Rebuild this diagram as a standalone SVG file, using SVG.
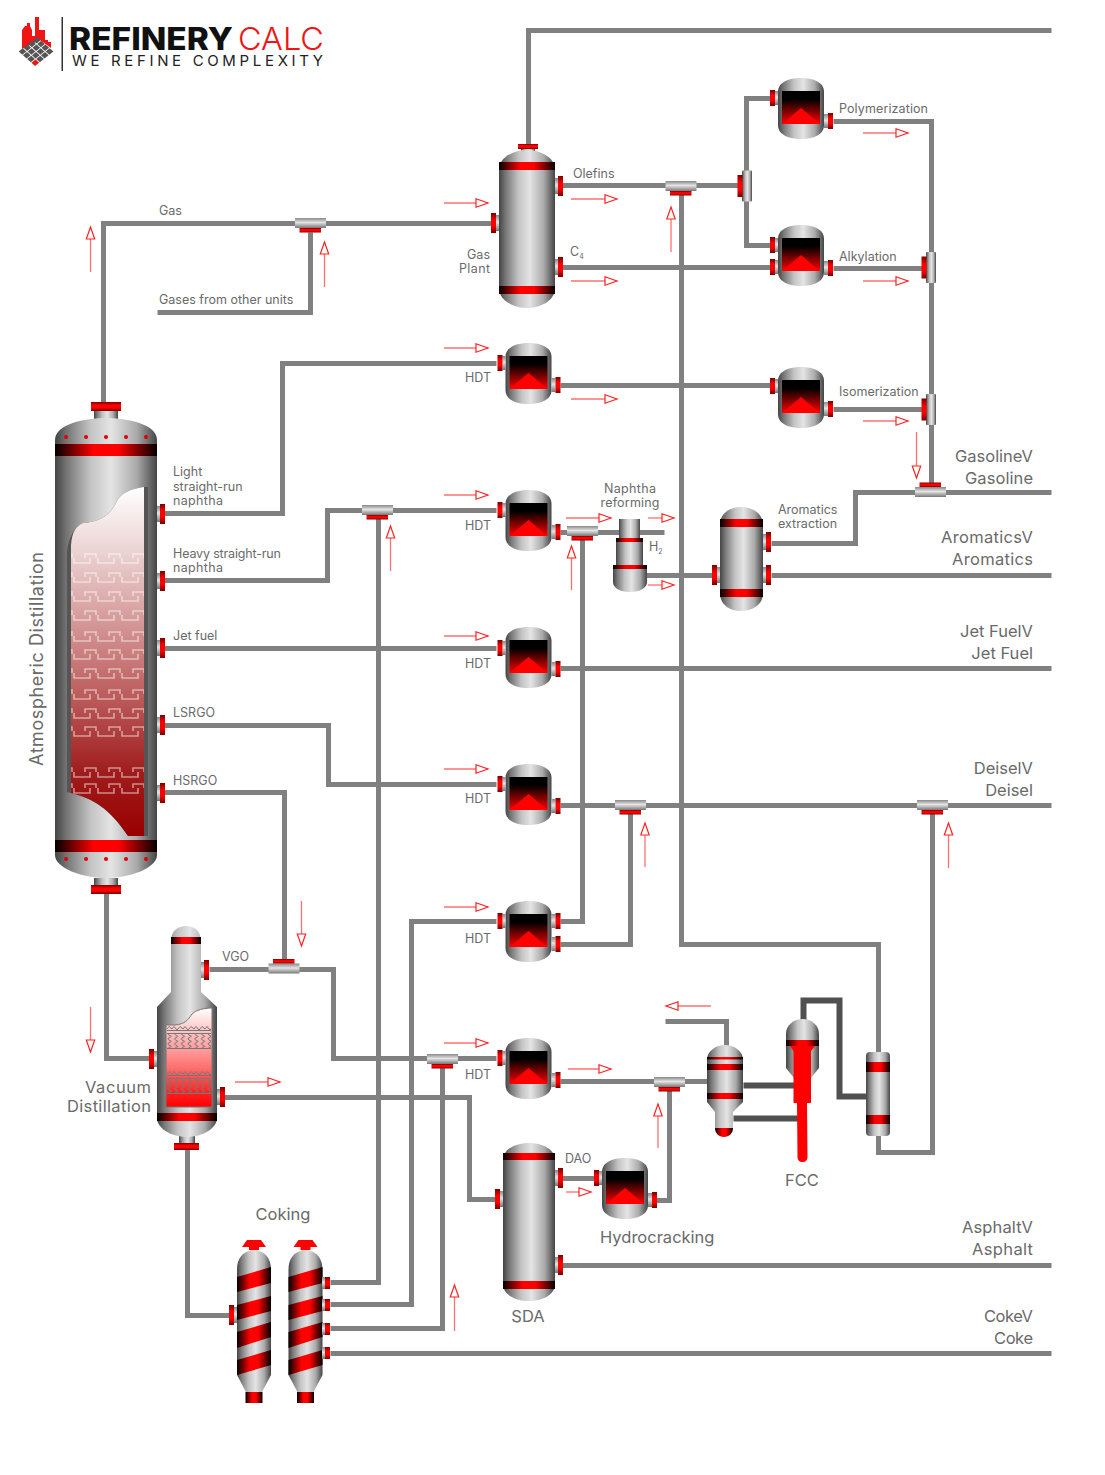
<svg xmlns="http://www.w3.org/2000/svg" xmlns:xlink="http://www.w3.org/1999/xlink" width="1105" height="1475" viewBox="0 0 1105 1475">
<style>
text{font-family:Inter,"Open Sans","Liberation Sans",sans-serif;fill:#6a6a6a;font-size:12.5px}
.b{font-size:16.5px}
.e{text-anchor:end}
.m{text-anchor:middle}
.p{fill:none;stroke:#808080;stroke-width:5}
.d{fill:none;stroke:#505050;stroke-width:6}
.a{fill:none;stroke:#ff7070;stroke-width:1.3;marker-end:url(#ah)}
.hg{fill:url(#hg)}.vg{fill:url(#vg)}.hr{fill:url(#hr)}.vr{fill:url(#vr)}
</style>
<defs>
<linearGradient id="hg"><stop offset="0" stop-color="#444"/><stop offset=".12" stop-color="#777"/><stop offset=".35" stop-color="#c4c4c4"/><stop offset=".55" stop-color="#e4e4e4"/><stop offset=".8" stop-color="#aaa"/><stop offset="1" stop-color="#444"/></linearGradient>
<linearGradient id="vg" x2="0" y2="1"><stop offset="0" stop-color="#888"/><stop offset=".45" stop-color="#e4e4e4"/><stop offset="1" stop-color="#777"/></linearGradient>
<linearGradient id="hr"><stop offset="0" stop-color="#000"/><stop offset=".38" stop-color="#f00"/><stop offset=".62" stop-color="#f00"/><stop offset="1" stop-color="#000"/></linearGradient>
<linearGradient id="vr" x2="0" y2="1"><stop offset="0" stop-color="#700"/><stop offset=".35" stop-color="#f00"/><stop offset=".65" stop-color="#f00"/><stop offset="1" stop-color="#700"/></linearGradient>
<linearGradient id="win" x2="0" y2="1"><stop offset="0" stop-color="#000"/><stop offset=".25" stop-color="#000"/><stop offset="1" stop-color="#f00"/></linearGradient>
<linearGradient id="col" x2="0" y2="1"><stop offset="0" stop-color="#fff"/><stop offset=".18" stop-color="#ecd4d4"/><stop offset=".5" stop-color="#c87878"/><stop offset=".82" stop-color="#a01c1c"/><stop offset="1" stop-color="#900"/></linearGradient>
<linearGradient id="vac" x2="0" y2="1"><stop offset="0" stop-color="#fff"/><stop offset=".2" stop-color="#fcc"/><stop offset=".42" stop-color="#ff9c9c"/><stop offset=".62" stop-color="#ff6b6b"/><stop offset=".85" stop-color="#f22"/><stop offset="1" stop-color="#f00"/></linearGradient>
<pattern id="key" patternUnits="userSpaceOnUse" x="71" width="24" height="11"><path d="M3,5V10H19V5M14,5V1H24M0,1H1V5" fill="none" stroke="#fff" stroke-opacity=".5" stroke-width="1.6"/></pattern>
<pattern id="zig" patternUnits="userSpaceOnUse" x="166" width="11" height="5"><path d="M0,5L3,1.500L6,4L8,1.500L11,5" fill="none" stroke="#777" stroke-width="1"/></pattern>
<pattern id="squig" patternUnits="userSpaceOnUse" x="166" width="6.700" height="5"><path d="M3,0L5,1.300L2,3.700L3,5" fill="none" stroke="#777" stroke-width="1"/></pattern>
<marker id="ah" markerUnits="userSpaceOnUse" markerWidth="16" markerHeight="13" refX="13" refY="6" orient="auto"><path d="M1,1.800L13,6L1,10.200Z" fill="#fff" stroke="#f22" stroke-width="1.200"/></marker>
<g id="fr"><rect x="0" y="-8" width="4" height="16" class="vg"/><rect x="3" y="-10" width="5" height="20" class="vr"/></g>
<g id="fl"><rect x="-4" y="-8" width="4" height="16" class="vg"/><rect x="-8" y="-10" width="5" height="20" class="vr"/></g>
<g id="sr"><rect x="0" y="-7" width="4" height="14" class="vg"/><rect x="4" y="-8" width="5" height="16" class="vr"/></g>
<g id="sl"><rect x="-3" y="-7" width="3" height="14" class="vg"/><rect x="-8" y="-8" width="5" height="16" class="vr"/></g>
<g id="tr"><rect x="0" y="-6" width="4" height="12" class="vg"/><rect x="3" y="-6" width="5" height="12" class="vr"/></g>
<g id="reactor"><path d="M-23,14C-23,4-12,0 0,0C12,0 23,4 23,14V47C23,57 12,61 0,61C-12,61-23,57-23,47Z" class="hg"/><rect x="-19" y="13" width="38" height="33" fill="url(#win)"/><path d="M-19,46L0,30L19,46Z" fill="#f00"/></g>
<g id="td"><rect x="-15.500" y="-5" width="31" height="10" class="vg"/><rect x="-11" y="5" width="21.500" height="4.500" class="vr"/></g>
<g id="tu"><rect x="-15.500" y="-5" width="31" height="10" class="vg"/><rect x="-11" y="-9.500" width="21.500" height="4.500" class="vr"/></g>
<g id="vf"><rect x="-5" y="-15.500" width="10" height="31" rx="1" class="hg"/><rect x="-9.500" y="-11" width="5" height="22" class="vr"/></g>
<rect id="tray" x="71" y="0" width="73" height="11" fill="url(#key)"/>
<g id="drum"><path d="M-4,1251V1246H4V1251C11,1252 17,1258 17,1270V1375L8,1392H-8L-17,1375V1270C-17,1258-11,1252-4,1251Z" class="hg"/><path d="M-5,1247L-12,1247L-7,1240H7L12,1247H5V1250H-5Z" fill="#f00"/><path d="M-17,1277L17,1267V1283L-17,1292Z" class="hr"/><path d="M-17,1305L17,1296V1311L-17,1320Z" class="hr"/><path d="M-17,1332L17,1322V1337L-17,1348Z" class="hr"/><path d="M-17,1360L17,1350V1365L-17,1375Z" class="hr"/><rect x="-8.500" y="1392" width="17" height="11" class="hr"/></g>
</defs>
<rect width="1105" height="1475" fill="#fff"/>

<g id="logo">
<path d="M22,49V30L25,26H27V23H30V26L32,30V36H35V17H39V30H40V30H45V40H48V42H51V48L40,40Z" fill="#f01414"/>
<g transform="matrix(4.25,3.75,-4.75,3.75,37,37)" fill="#555"><rect x="0" y="0" width=".85" height=".85"/><rect x="1" y="0" width=".85" height=".85"/><rect x="2" y="0" width=".85" height=".85"/><rect x="3" y="0" width=".85" height=".85"/><rect x="0" y="1" width=".85" height=".85"/><rect x="1" y="1" width=".85" height=".85"/><rect x="2" y="1" width=".85" height=".85"/><rect x="3" y="1" width=".85" height=".85"/><rect x="0" y="2" width=".85" height=".85"/><rect x="1" y="2" width=".85" height=".85"/><rect x="2" y="2" width=".85" height=".85"/><rect x="3" y="2" width=".85" height=".85"/><rect x="0" y="3" width=".85" height=".85"/><rect x="1" y="3" width=".85" height=".85"/><rect x="2" y="3" width=".85" height=".85"/><rect x="3" y="3" width=".85" height=".85" fill="#f01414"/></g>
<rect x="61.500" y="17" width="1.500" height="54" fill="#333"/>
<text x="69" y="50" textLength="164" lengthAdjust="spacingAndGlyphs" style="font-size:31px;font-weight:800;fill:#111">REFINERY</text>
<text x="238" y="50" textLength="86" lengthAdjust="spacingAndGlyphs" style="font-size:31px;font-weight:300;fill:#f01414">CALC</text>
<text x="72" y="66" textLength="251" style="font-size:15px;fill:#222">WE REFINE COMPLEXITY</text>
</g>

<g id="connectors" transform="translate(.5,.5)">
<path class="p" d="M528,145V30H1051"/>
<path class="p" d="M103,405V223H492"/>
<path class="p" d="M157,312H310V232"/>
<path class="p" d="M560,185H740"/>
<path class="p" d="M681,190V944H878V1055"/>
<path class="p" d="M560,267H771"/>
<path class="p" d="M771,98H746V245H771"/>
<path class="p" d="M833,121H931V490"/>
<path class="p" d="M833,268H922"/>
<path class="p" d="M833,409H922"/>
<path class="p" d="M771,543H855V492H1051"/>
<path class="p" d="M771,575H1051"/>
<path class="p" d="M560,532H664"/>
<path class="p" d="M645,575H717"/>
<path class="p" d="M560,385H771"/>
<path class="p" d="M163,513H282V363H496"/>
<path class="p" d="M163,580H327V510H496"/>
<path class="p" d="M378,518V1282H330"/>
<path class="p" d="M163,648H496"/>
<path class="p" d="M560,668H1051"/>
<path class="p" d="M163,725H328V784H496"/>
<path class="p" d="M163,792H284V960"/>
<path class="p" d="M560,805H1051"/>
<path class="p" d="M630,812V944H560"/>
<path class="p" d="M932,812V1152H878V1135"/>
<path class="p" d="M560,921H582V538"/>
<path class="p" d="M496,921H411V1304H330"/>
<path class="p" d="M209,969H333V1058H496"/>
<path class="p" d="M442,1066V1328H330"/>
<path class="p" d="M106,893V1058H150"/>
<path class="p" d="M187,1148V1315H229"/>
<path class="p" d="M224,1097H469V1199H495"/>
<path class="p" d="M560,1265H1051"/>
<path class="p" d="M330,1353H1051"/>
<path class="p" d="M561,1178H597"/>
<path class="p" d="M656,1200H669V1085"/>
<path class="p" d="M560,1081H707"/>
<path class="p" d="M665,1021H726V1046"/>
<path class="d" d="M803,1022V1000H839V1096H866"/>
<path class="d" d="M743,1085H795"/>
<path class="d" d="M733,1118H798"/>
</g>

<g id="flow-arrows">
<path class="a" d="M444,203H488"/><path class="a" d="M571,199H617"/><path class="a" d="M571,281H617"/><path class="a" d="M863,133H908"/><path class="a" d="M863,281H908"/><path class="a" d="M863,421H908"/><path class="a" d="M444,348H488"/><path class="a" d="M571,399H617"/><path class="a" d="M444,495H488"/><path class="a" d="M566,518H611"/><path class="a" d="M648,518H674"/><path class="a" d="M648,585H674"/><path class="a" d="M444,636H488"/><path class="a" d="M444,769H488"/><path class="a" d="M444,907H488"/><path class="a" d="M444,1043H488"/><path class="a" d="M568,1069H611"/><path class="a" d="M235,1082H280"/><path class="a" d="M566,1192H591"/>
<path class="a" d="M90.500,272V227"/><path class="a" d="M324.500,287V242"/><path class="a" d="M671,252V207"/><path class="a" d="M390.500,571V526"/><path class="a" d="M571.500,590V546"/><path class="a" d="M645,867V823"/><path class="a" d="M948.500,868V823"/><path class="a" d="M658,1148V1104"/><path class="a" d="M454.500,1331V1285"/>
<path class="a" d="M916.500,432V478"/><path class="a" d="M301.500,901V946"/><path class="a" d="M90.500,1007V1052"/>
<path class="a" d="M711,1006H666"/>
</g>

<g id="atmospheric-column">
<rect x="94" y="411" width="24" height="8" class="hg"/><rect x="91" y="402" width="30" height="9" class="vr"/>
<rect x="94" y="878" width="24" height="8" class="hg"/><rect x="91" y="885" width="30" height="9" class="vr"/>
<path d="M55,440C55,424 85,418 106,418C127,418 157,424 157,440V855C157,868 130,878 106,878C82,878 55,868 55,855Z" class="hg"/>
<path d="M67,552C68,538 75,526 83,523C100,522 110,515 116,503C120,492 135,488 144,487H148V836H128C110,810 95,798 67,792Z" fill="#555"/>
<path d="M71,545C72,532 76,526 83,523C100,522 110,515 116,503C120,492 135,488 144,487V836H128C110,808 92,798 71,793Z" fill="url(#col)"/>
<use xlink:href="#tray" y="553"/><use xlink:href="#tray" y="572"/><use xlink:href="#tray" y="591"/><use xlink:href="#tray" y="610"/><use xlink:href="#tray" y="631"/><use xlink:href="#tray" y="649"/><use xlink:href="#tray" y="668"/><use xlink:href="#tray" y="689"/><use xlink:href="#tray" y="708"/><use xlink:href="#tray" y="726"/><use xlink:href="#tray" y="767"/><use xlink:href="#tray" y="783"/>
<rect x="55" y="444" width="102" height="12" class="hr"/><rect x="55" y="840" width="102" height="12" class="hr"/>
<g fill="#d00"><circle cx="66" cy="437" r="2"/><circle cx="86" cy="437" r="2"/><circle cx="106" cy="437" r="2"/><circle cx="126" cy="437" r="2"/><circle cx="146" cy="437" r="2"/><circle cx="66" cy="859" r="2"/><circle cx="86" cy="859" r="2"/><circle cx="106" cy="859" r="2"/><circle cx="126" cy="859" r="2"/><circle cx="146" cy="859" r="2"/></g>
<use xlink:href="#fr" x="157" y="514"/><use xlink:href="#fr" x="157" y="581"/><use xlink:href="#fr" x="157" y="648"/><use xlink:href="#fr" x="157" y="725"/><use xlink:href="#fr" x="157" y="793"/>
<text transform="translate(43,766) rotate(-90)" textLength="214" style="font-size:18px">Atmospheric Distillation</text>
</g>

<g id="vacuum-column">
<rect x="179" y="1136" width="16" height="8" class="hg"/><rect x="174" y="1143" width="25" height="7" class="vr"/>
<path d="M171,941C171,931 178,926 186,926C194,926 201,931 201,941V992L217,1007V1118C217,1128 203,1137 187,1137C171,1137 157,1128 157,1118V1007L171,992Z" class="hg"/>
<path d="M166,1025H175C185,1024 188,1020 192,1014C196,1010 204,1008 212,1008V1107H166Z" fill="url(#vac)" stroke="#777" stroke-width="1"/>
<rect x="167" y="1025" width="44" height="5" fill="url(#zig)"/><rect x="167" y="1033" width="44" height="15" fill="url(#squig)"/><rect x="167" y="1070" width="44" height="5" fill="url(#zig)"/><rect x="167" y="1078" width="44" height="15" fill="url(#squig)"/>
<path d="M167,1030.500H211M167,1033.500H211M167,1048.500H211M167,1075.500H211M167,1078.500H211M167,1093.500H211" fill="none" stroke="#777" stroke-width="1"/>
<rect x="171" y="937" width="30" height="7" class="hr"/><rect x="157" y="1113" width="60" height="8" class="hr"/>
<use xlink:href="#fr" x="201" y="970"/><use xlink:href="#fl" x="157" y="1059"/><use xlink:href="#fr" x="217" y="1097"/>
</g>

<g id="gas-plant"><rect x="521" y="148" width="14" height="4" class="hg"/><rect x="518" y="144" width="20" height="5" class="vr"/>
<path d="M499,170C499,157 514,150 527,150C540,150 555,157 555,170V288C555,301 540,308 527,308C514,308 499,301 499,288Z" class="hg"/>
<rect x="499" y="162" width="56" height="8" class="hr"/><rect x="499" y="286" width="56" height="8" class="hr"/>
<use xlink:href="#fr" x="555" y="186"/><use xlink:href="#fr" x="555" y="267"/><use xlink:href="#fl" x="499" y="223"/></g>

<g id="polymerization"><use xlink:href="#reactor" x="801" y="78"/><use xlink:href="#sl" x="778" y="98"/><use xlink:href="#sr" x="824" y="121"/></g>
<g id="alkylation"><use xlink:href="#reactor" x="801" y="225"/><use xlink:href="#sl" x="778" y="245"/><use xlink:href="#sl" x="778" y="267"/><use xlink:href="#sr" x="824" y="268"/></g>
<g id="isomerization"><use xlink:href="#reactor" x="801" y="367"/><use xlink:href="#sl" x="778" y="386"/><use xlink:href="#sr" x="824" y="409"/></g>
<g id="hdt-1"><use xlink:href="#reactor" x="528.500" y="343"/><use xlink:href="#sl" x="505.500" y="363"/><use xlink:href="#sr" x="551.500" y="385"/></g>
<g id="hdt-2"><use xlink:href="#reactor" x="528.500" y="490"/><use xlink:href="#sl" x="505.500" y="510"/><use xlink:href="#sr" x="551.500" y="532"/></g>
<g id="hdt-3"><use xlink:href="#reactor" x="528.500" y="627"/><use xlink:href="#sl" x="505.500" y="648"/><use xlink:href="#sr" x="551.500" y="669"/></g>
<g id="hdt-4"><use xlink:href="#reactor" x="528.500" y="764"/><use xlink:href="#sl" x="505.500" y="784"/><use xlink:href="#sr" x="551.500" y="806"/></g>
<g id="hdt-5"><use xlink:href="#reactor" x="528.500" y="901"/><use xlink:href="#sl" x="505.500" y="921"/><use xlink:href="#sr" x="551.500" y="921"/><use xlink:href="#sr" x="551.500" y="944"/></g>
<g id="hdt-6"><use xlink:href="#reactor" x="528.500" y="1038"/><use xlink:href="#sl" x="505.500" y="1058"/><use xlink:href="#sr" x="551.500" y="1080"/></g>
<g id="hydrocracking"><use xlink:href="#reactor" x="625" y="1158"/><use xlink:href="#sl" x="602" y="1178"/><use xlink:href="#sr" x="648" y="1200"/></g>

<g id="tees">
<use xlink:href="#td" x="310.500" y="223"/><use xlink:href="#td" x="681" y="186"/><use xlink:href="#td" x="377.500" y="510"/><use xlink:href="#td" x="582.500" y="531"/><use xlink:href="#td" x="630.500" y="805"/><use xlink:href="#td" x="932.500" y="805"/><use xlink:href="#td" x="442.500" y="1059"/><use xlink:href="#td" x="669.500" y="1082"/>
<use xlink:href="#tu" x="930.500" y="492"/><use xlink:href="#tu" x="284" y="968.500"/>
<use xlink:href="#vf" x="747" y="186"/><use xlink:href="#vf" x="931" y="267.500"/><use xlink:href="#vf" x="931" y="409.500"/>
</g>

<g id="naphtha-reformer">
<rect x="619" y="519" width="21" height="20" class="hg"/>
<rect x="616" y="540" width="27" height="26" class="hg"/>
<rect x="616" y="538" width="27" height="4" class="hr"/>
<path d="M613,566H647V582C647,588 640,592 630,592C620,592 613,588 613,582Z" class="hg"/>
<rect x="613" y="565" width="34" height="4" class="hr"/>
</g>

<g id="aromatics-extraction">
<path d="M720,525C720,513 730,507 741,507C752,507 763,513 763,525V593C763,605 752,611 741,611C730,611 720,605 720,593Z" class="hg"/>
<rect x="720" y="519" width="43" height="8" class="hr"/><rect x="720" y="589" width="43" height="8" class="hr"/>
<use xlink:href="#fr" x="763" y="542"/><use xlink:href="#fr" x="763" y="575"/><use xlink:href="#fl" x="720" y="575"/>
</g>

<g id="sda">
<path d="M503,1160C503,1149 516,1143 529,1143C542,1143 555,1149 555,1160V1284C555,1295 542,1301 529,1301C516,1301 503,1295 503,1284Z" class="hg"/>
<rect x="503" y="1153" width="52" height="7" class="hr"/><rect x="503" y="1281" width="52" height="8" class="hr"/>
<use xlink:href="#fr" x="555" y="1178"/><use xlink:href="#fr" x="555" y="1265"/><use xlink:href="#fl" x="503" y="1199"/>
</g>

<g id="fcc">
<path d="M707,1060C707,1051 716,1045 725,1045C734,1045 743,1051 743,1060V1102L733,1112V1128C733,1133 729,1137 724,1137C719,1137 715,1133 715,1128V1112L707,1102Z" class="hg"/>
<rect x="707" y="1057" width="36" height="2.500" class="hr"/><rect x="707" y="1064" width="36" height="6" class="hr"/><rect x="707" y="1093" width="36" height="6" class="hr"/>
<path d="M715,1128H733C733,1133 729,1137 724,1137C719,1137 715,1133 715,1128Z" class="hr"/>
<path d="M786,1034C786,1025 794,1019 802.500,1019C811,1019 819,1025 819,1034V1068L811,1078H794L786,1068Z" class="hg"/>
<rect x="786" y="1040" width="33" height="6" class="hr"/>
<path d="M790,1046H815L811,1051V1103H807L807.500,1157C807.500,1160 805.500,1162 802.500,1162C799.500,1162 797.500,1160 797.500,1157L797,1103H793.500V1051Z" fill="#f00"/>
<rect x="866" y="1052" width="24" height="84" rx="4" class="hg"/>
<rect x="866" y="1062" width="24" height="10" class="hr"/><rect x="866" y="1115" width="24" height="9" class="hr"/>
</g>

<g id="coking"><use xlink:href="#drum" x="254"/><use xlink:href="#drum" x="305.500"/>
<use xlink:href="#fl" x="237" y="1315"/><use xlink:href="#tr" x="322" y="1283"/><use xlink:href="#tr" x="322" y="1305"/><use xlink:href="#tr" x="322" y="1329"/><use xlink:href="#tr" x="322" y="1353"/></g>

<g id="labels">
<text x="159" y="215">Gas</text>
<text x="159" y="304">Gases from other units</text>
<text x="573" y="178">Olefins</text>
<text x="570" y="256">C<tspan dy="3" style="font-size:7px">4</tspan></text>
<text class="e" x="490" y="259">Gas</text><text class="e" x="490" y="273" textLength="31">Plant</text>
<text x="839" y="113" textLength="89">Polymerization</text>
<text x="839" y="261">Alkylation</text>
<text x="839" y="396">Isomerization</text>
<text class="e" x="491" y="382">HDT</text><text class="e" x="491" y="530">HDT</text><text class="e" x="491" y="668">HDT</text><text class="e" x="491" y="803">HDT</text><text class="e" x="491" y="943">HDT</text><text class="e" x="491" y="1079">HDT</text>
<text x="173" y="476">Light</text><text x="173" y="491">straight-run</text><text x="173" y="505" textLength="50">naphtha</text>
<text x="173" y="558" textLength="108">Heavy straight-run</text><text x="173" y="572" textLength="50">naphtha</text>
<text x="173" y="640">Jet fuel</text>
<text x="173" y="717">LSRGO</text>
<text x="173" y="785">HSRGO</text>
<text class="m" x="630" y="493" textLength="52">Naphtha</text><text class="m" x="630" y="507" textLength="59">reforming</text>
<text x="649" y="551">H<tspan dy="3" style="font-size:7px">2</tspan></text>
<text x="778" y="514">Aromatics</text><text x="778" y="528">extraction</text>
<text x="222" y="961">VGO</text>
<text x="565" y="1163">DAO</text>
<text class="b e" x="151" y="1093" textLength="66">Vacuum</text><text class="b e" x="151" y="1112" textLength="84">Distillation</text>
<text class="b m" x="283" y="1220">Coking</text>
<text class="b m" x="528" y="1322">SDA</text>
<text class="b" x="600" y="1243">Hydrocracking</text>
<text class="b m" x="802" y="1186">FCC</text>
<text class="b e" x="1033" y="462" textLength="78">GasolineV</text><text class="b e" x="1033" y="484" textLength="68">Gasoline</text>
<text class="b e" x="1033" y="543" textLength="92">AromaticsV</text><text class="b e" x="1033" y="565" textLength="81">Aromatics</text>
<text class="b e" x="1033" y="637">Jet FuelV</text><text class="b e" x="1033" y="659">Jet Fuel</text>
<text class="b e" x="1033" y="774">DeiselV</text><text class="b e" x="1033" y="796">Deisel</text>
<text class="b e" x="1033" y="1233" textLength="71">AsphaltV</text><text class="b e" x="1033" y="1255" textLength="61">Asphalt</text>
<text class="b e" x="1033" y="1322" textLength="49">CokeV</text><text class="b e" x="1033" y="1344" textLength="39">Coke</text>
</g>
</svg>
